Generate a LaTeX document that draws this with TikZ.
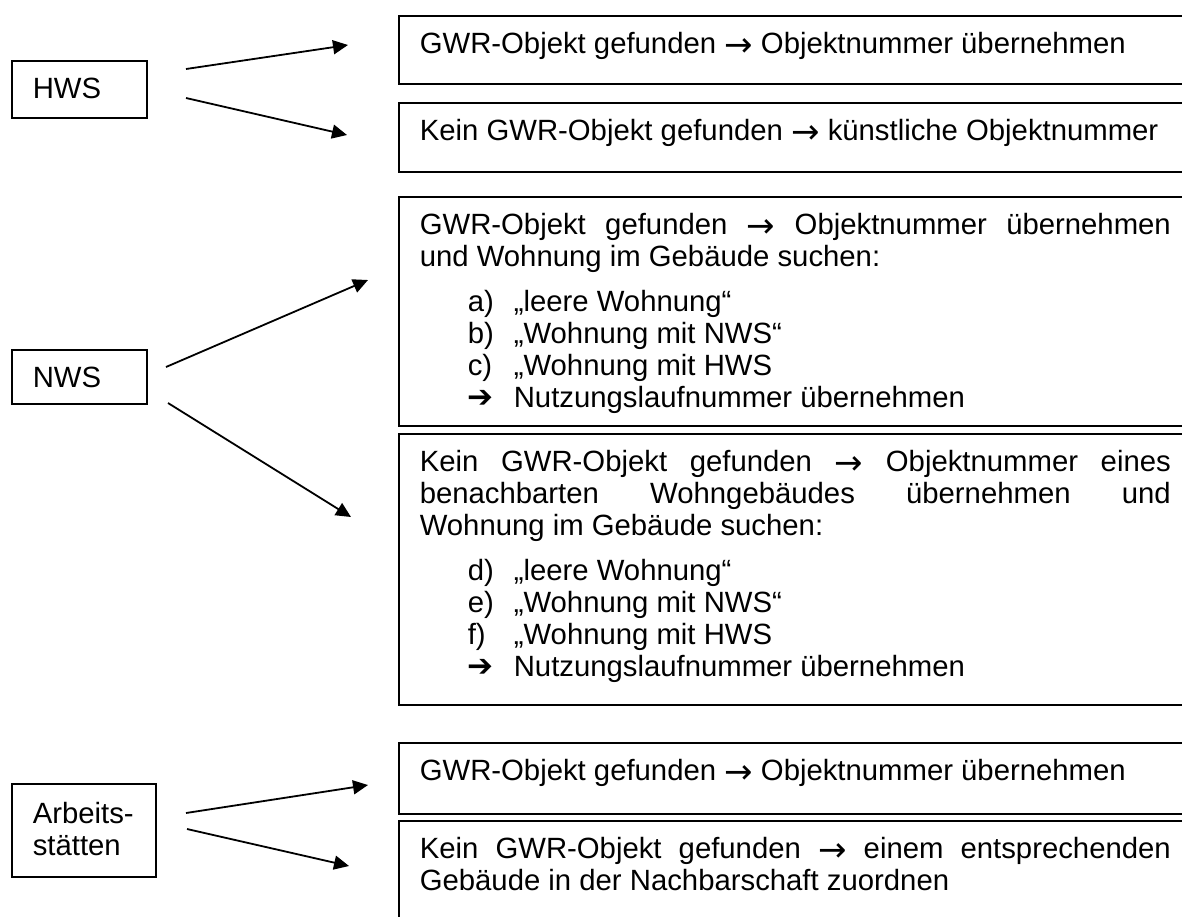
\documentclass[tikz,border=0pt]{standalone}
\usepackage{fontspec}
\setmainfont{Liberation Sans}
\newfontfamily\dingfont{DejaVu Sans}
\usetikzlibrary{arrows.meta}

% body text size and line spacing
\newcommand\diagfont{\fontsize{29.3}{32}\selectfont}
% arrow inside running text
\newcommand\yields{\raisebox{-3pt}{\dingfont\fontsize{34}{32}\selectfont →}}
% heavy arrow used as the last list mark
\newcommand\pointer{{\dingfont\fontsize{31}{32}\selectfont ➔}}
% a line stretched to the full text width (justified)
\newcommand\fullline[1]{\makebox[751pt][s]{#1}}
% indented list row: mark, then text
\newcommand\listrow[2]{\hspace*{48pt}\makebox[46pt][l]{#1}#2}

\begin{document}
\begin{tikzpicture}[x=1pt, y=-1pt,
  panel/.style={draw, line width=1.6pt, anchor=north west,
    inner xsep=21pt, inner ysep=0pt, text height=38pt,
    align=left, font=\diagfont,
    % use the font's own stretchable word spaces
    execute at begin node={\spaceskip=0pt\xspaceskip=0pt\relax}},
  infobox/.style={panel, text width=751pt},
  flow/.style={line width=1.8pt, -{Triangle[length=15pt,width=14pt]}}]

\useasboundingbox (0,0) rectangle (1182,916);
\clip (0,0) rectangle (1182,916);
\fill[white] (0,0) rectangle (1182,916);

% categories on the left
\node[panel, text width=93pt, text depth=19pt] (hws) at (11,60) {HWS};
\node[panel, text width=93pt, text depth=16pt] (nws) at (11,349) {NWS};
\node[panel, text width=102pt, text height=40pt, text depth=53pt] (arb) at (11,783) {Arbeits-\\stätten};

% outcome boxes on the right
\node[infobox, text depth=30pt] (b1) at (398,15)
  {GWR-Objekt gefunden \yields{} Objektnummer übernehmen};
\node[infobox, text depth=31pt] (b2) at (398,102)
  {Kein GWR-Objekt gefunden \yields{} künstliche Objektnummer};
\node[infobox, text depth=191pt] (b3) at (398,196)
  {\fullline{GWR-Objekt gefunden \yields{} Objektnummer übernehmen}\\
   und Wohnung im Gebäude suchen:\\[13pt]
   \listrow{a)}{„leere Wohnung“}\\
   \listrow{b)}{„Wohnung mit NWS“}\\
   \listrow{c)}{„Wohnung mit HWS}\\
   \listrow{\pointer}{Nutzungslaufnummer übernehmen}};
\node[infobox, text depth=233pt] (b4) at (398,433)
  {\fullline{Kein GWR-Objekt gefunden \yields{} Objektnummer eines}\\
   \fullline{benachbarten Wohngebäudes übernehmen und}\\
   Wohnung im Gebäude suchen:\\[13pt]
   \listrow{d)}{„leere Wohnung“}\\
   \listrow{e)}{„Wohnung mit NWS“}\\
   \listrow{f)}{„Wohnung mit HWS}\\
   \listrow{\pointer}{Nutzungslaufnummer übernehmen}};
\node[infobox, text depth=33pt] (b5) at (398,742)
  {GWR-Objekt gefunden \yields{} Objektnummer übernehmen};
\node[infobox, text depth=100pt] (b6) at (398,820)
  {\fullline{Kein GWR-Objekt gefunden \yields{} einem entsprechenden}\\
   Gebäude in der Nachbarschaft zuordnen};

% arrow ends
\coordinate (h1a) at (186,69);  \coordinate (h1b) at (348,45);
\coordinate (h2a) at (186,98);  \coordinate (h2b) at (347,135);
\coordinate (n1a) at (166,367); \coordinate (n1b) at (368,280);
\coordinate (n2a) at (168,403); \coordinate (n2b) at (351,517);
\coordinate (a1a) at (186,813); \coordinate (a1b) at (368,785);
\coordinate (a2a) at (187,829); \coordinate (a2b) at (349,866);

\draw[flow] (h1a) -- (h1b);
\draw[flow] (h2a) -- (h2b);
\draw[flow] (n1a) -- (n1b);
\draw[flow] (n2a) -- (n2b);
\draw[flow] (a1a) -- (a1b);
\draw[flow] (a2a) -- (a2b);
\end{tikzpicture}
\end{document}
